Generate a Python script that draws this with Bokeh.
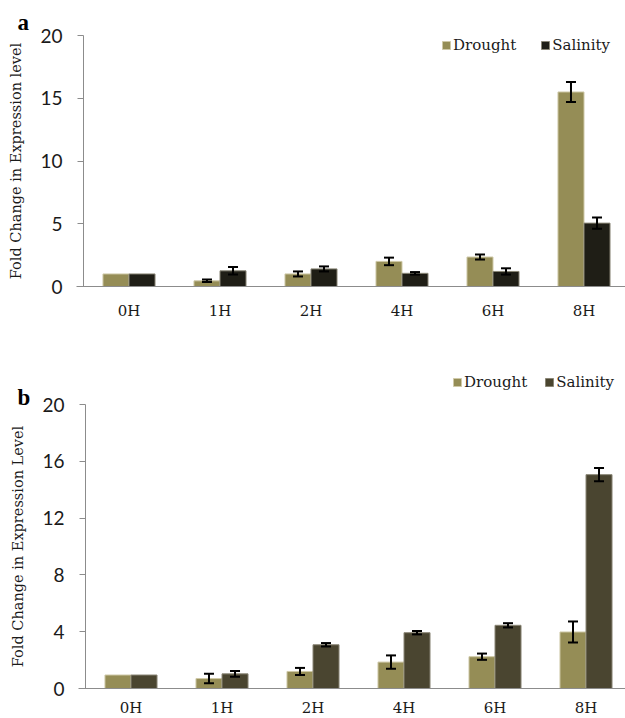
from bokeh.plotting import figure
from bokeh.layouts import column
from bokeh.models import (ColumnDataSource, Whisker, TeeHead, FixedTicker, Range1d,
                          Legend, LegendItem, Label)
from bokeh.embed import file_html
from bokeh.resources import INLINE

# ---------------- data ----------------
times = ["0H", "1H", "2H", "4H", "6H", "8H"]

a_drought = [1.0, 0.45, 1.0, 2.0, 2.35, 15.5]
a_drought_err = [0.0, 0.1, 0.2, 0.3, 0.2, 0.8]
a_salinity = [1.0, 1.25, 1.4, 1.05, 1.2, 5.05]
a_salinity_err = [0.0, 0.3, 0.2, 0.1, 0.25, 0.45]

b_drought = [0.95, 0.7, 1.2, 1.86, 2.24, 3.98]
b_drought_err = [0.0, 0.33, 0.25, 0.47, 0.22, 0.74]
b_salinity = [0.95, 1.03, 3.08, 3.93, 4.45, 15.06]
b_salinity_err = [0.0, 0.21, 0.12, 0.12, 0.15, 0.47]

a_yticks = [0, 5, 10, 15, 20]
b_yticks = [0, 4, 8, 12, 16, 20]
Y_MAX = 20

DROUGHT = "#958D56"
DROUGHT_EDGE = "#CFC9A8"
SAL_A = "#1F1E16"
SAL_B = "#4A4530"
SAL_EDGE = "#8A8676"
SERIF = "DejaVu Serif"
TXT = "#1A1A1A"

W = 625
CAT_PX = 91.0
HALF = 0.143
BAR_W = 0.286


def panel(letter, drought, d_err, salinity, s_err, sal_color, yticks, ylabel,
          height, axis_x, top_px, zero_px, letter_base, legend_xy, legend_spacing,
          x_standoff):
    """axis_x: pixel of y axis; top_px / zero_px: pixel rows of y=20 and y=0 (from top)."""
    unit = (zero_px - top_px) / Y_MAX
    y_end = Y_MAX + top_px / unit
    y_start = -(height - zero_px) / unit
    x_start = -axis_x / CAT_PX
    x_end = (W - axis_x) / CAT_PX
    p = figure(width=W, height=height, output_backend="svg", toolbar_location=None,
               title=None, x_range=Range1d(x_start, x_end), y_range=Range1d(y_start, y_end),
               min_border=0)
    p.outline_line_color = None
    p.grid.visible = False
    p.background_fill_color = "white"
    p.border_fill_color = "white"

    centers = [i + 0.5 for i in range(len(times))]
    src = ColumnDataSource(dict(
        xd=[c - HALF for c in centers], xs=[c + HALF for c in centers],
        d=drought, s=salinity))
    rd = p.vbar(x="xd", top="d", width=BAR_W, source=src,
                fill_color=DROUGHT, line_color=DROUGHT_EDGE, line_width=1)
    rs = p.vbar(x="xs", top="s", width=BAR_W, source=src,
                fill_color=sal_color, line_color=SAL_EDGE, line_width=1)

    for xs_, vals, errs in ((src.data["xd"], drought, d_err),
                            (src.data["xs"], salinity, s_err)):
        xx = [x for x, e in zip(xs_, errs) if e > 0]
        lo = [v - e for v, e in zip(vals, errs) if e > 0]
        hi = [v + e for v, e in zip(vals, errs) if e > 0]
        es = ColumnDataSource(dict(x=xx, lo=lo, hi=hi))
        p.add_layout(Whisker(base="x", lower="lo", upper="hi", source=es,
                             level="overlay",
                             line_color="black", line_width=2,
                             upper_head=TeeHead(size=10, line_width=2, line_color="black"),
                             lower_head=TeeHead(size=10, line_width=2, line_color="black")))

    xa = p.xaxis[0]
    xa.fixed_location = 0
    xa.bounds = (-7 / CAT_PX, x_end)
    xa.ticker = FixedTicker(ticks=centers)
    xa.major_label_overrides = {c: t for c, t in zip(centers, times)}
    xa.major_tick_out = 0
    xa.major_tick_in = 0
    xa.minor_tick_out = 0
    xa.minor_tick_in = 0
    xa.axis_line_color = "#8C8C8C"
    xa.major_label_text_font = SERIF
    xa.major_label_text_font_size = "15px"
    xa.major_label_text_color = TXT
    xa.major_label_standoff = x_standoff

    ya = p.yaxis[0]
    ya.fixed_location = 0
    ya.bounds = (0, Y_MAX)
    ya.ticker = FixedTicker(ticks=yticks)
    ya.minor_tick_out = 0
    ya.minor_tick_in = 0
    ya.major_tick_out = 6
    ya.major_tick_in = 0
    ya.major_tick_line_color = "#8C8C8C"
    ya.axis_line_color = "#8C8C8C"
    ya.major_label_text_font = "Lato"
    ya.major_label_text_font_size = "19px"
    ya.major_label_text_color = TXT
    ya.major_label_standoff = 15
    ya.axis_label = ylabel
    ya.axis_label_text_font = SERIF
    ya.axis_label_text_font_style = "normal"
    ya.axis_label_text_font_size = "14.5px"
    ya.axis_label_text_color = TXT
    ya.axis_label_standoff = 13

    p.add_layout(Legend(items=[LegendItem(label="Drought", renderers=[rd]),
                               LegendItem(label="Salinity", renderers=[rs])],
                        location=(legend_xy[0], height - legend_xy[1]),
                        orientation="horizontal",
                        background_fill_alpha=0, border_line_color=None,
                        padding=0, margin=0, spacing=legend_spacing,
                        glyph_width=10, glyph_height=10, label_standoff=2,
                        label_text_font=SERIF, label_text_font_size="15px",
                        label_text_color=TXT))

    p.add_layout(Label(x=17, y=height - letter_base, x_units="screen", y_units="screen",
                       text=letter, text_font="Liberation Serif", text_font_style="bold",
                       text_font_size="23px", text_baseline="alphabetic",
                       text_align="left", text_color="black"))
    return p


# panel a occupies page rows 0..330, panel b rows 330..718
pa = panel("a", a_drought, a_drought_err, a_salinity, a_salinity_err, SAL_A,
           a_yticks, "Fold Change in Expression level",
           height=330, axis_x=83, top_px=35, zero_px=286, letter_base=22,
           legend_xy=(441, 54), legend_spacing=24, x_standoff=15)
pb = panel("b", b_drought, b_drought_err, b_salinity, b_salinity_err, SAL_B,
           b_yticks, "Fold Change in Expression Level",
           height=388, axis_x=85, top_px=74, zero_px=358, letter_base=67,
           legend_xy=(452, 61), legend_spacing=17, x_standoff=10)

layout = column(pa, pb, spacing=0)
open("out.html", "w").write(file_html(layout, INLINE))
